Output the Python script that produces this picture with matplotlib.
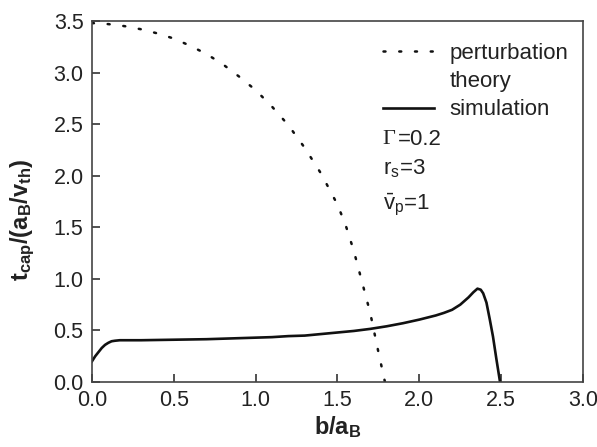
import matplotlib
matplotlib.use("Agg")
import matplotlib.pyplot as plt
from matplotlib.lines import Line2D

plt.rcParams['font.family'] = ['Liberation Sans', 'DejaVu Sans']
plt.rcParams['mathtext.fontset'] = 'custom'
plt.rcParams['mathtext.rm'] = 'Liberation Sans'
plt.rcParams['mathtext.it'] = 'Liberation Sans'
plt.rcParams['mathtext.bf'] = 'Liberation Sans:bold'

# perturbation theory
pt_x = [0, 0.1, 0.2, 0.3, 0.4, 0.5, 0.6, 0.7, 0.8, 0.9, 1.0, 1.1, 1.2, 1.3,
        1.4, 1.5, 1.55, 1.6, 1.65, 1.7, 1.75, 1.79]
pt_y = [3.48, 3.47, 3.45, 3.42, 3.38, 3.33, 3.26, 3.18, 3.08, 2.96, 2.83,
        2.67, 2.49, 2.27, 2.02, 1.72, 1.52, 1.27, 0.97, 0.67, 0.29, 0.0]

# simulation
sim_x = [0, 0.02, 0.04, 0.06, 0.08, 0.10, 0.12, 0.14, 0.17, 0.3, 0.5, 0.7,
         0.9, 1.1, 1.2, 1.3, 1.4, 1.5, 1.6, 1.7, 1.8, 1.9, 2.0, 2.1, 2.15,
         2.2, 2.25, 2.3, 2.33, 2.355, 2.375, 2.39, 2.41, 2.43, 2.45, 2.47,
         2.493]
sim_y = [0.20, 0.25, 0.29, 0.33, 0.36, 0.38, 0.395, 0.40, 0.405, 0.405, 0.41,
         0.415, 0.425, 0.435, 0.445, 0.45, 0.465, 0.48, 0.495, 0.515, 0.54,
         0.57, 0.605, 0.645, 0.67, 0.70, 0.75, 0.82, 0.87, 0.905, 0.895,
         0.86, 0.77, 0.61, 0.44, 0.23, 0.0]

xticks = [0.0, 0.5, 1.0, 1.5, 2.0, 2.5, 3.0]
yticks = [0.0, 0.5, 1.0, 1.5, 2.0, 2.5, 3.0, 3.5]

fig = plt.figure(figsize=(5.97, 4.47), dpi=100)
ax = fig.add_axes([0.154, 0.1454, 0.8226, 0.8076])

h_pt, = ax.plot(pt_x, pt_y, color='#111111', lw=1.8,
                linestyle=(0, (0.8, 5.5)), dash_capstyle='round')
h_sim, = ax.plot(sim_x, sim_y, color='#111111', lw=1.9,
                 solid_joinstyle='round')
h_blank = Line2D([], [], linestyle='none')

ax.set_xlim(0, 3.0)
ax.set_ylim(0, 3.5)
ax.set_xticks(xticks)
ax.set_yticks(yticks)
ax.set_xticklabels([f"{v:.1f}" for v in xticks])
ax.set_yticklabels([f"{v:.1f}" for v in yticks])
ax.tick_params(direction='in', length=6, width=1.2, labelsize=15.5,
               colors='#333333', labelcolor='#222222', pad=6,
               top=False, right=False)
for s in ax.spines.values():
    s.set_color('#444444')
    s.set_linewidth(1.2)

ax.set_xlabel(r'$\mathbf{b/a_B}$', fontsize=17, labelpad=2, color='#222222')
ax.set_ylabel(r'$\mathbf{t_{cap}/(a_B/v_{th})}$', fontsize=17, color='#222222')
ax.yaxis.set_label_coords(-0.112, 0.45)

leg = ax.legend([h_pt, h_blank, h_sim], ['perturbation', 'theory', 'simulation'],
                loc='upper left', bbox_to_anchor=(0.593, 0.94), frameon=False,
                fontsize=16, handlelength=2.3, handletextpad=0.7,
                borderpad=0, borderaxespad=0, labelspacing=0.33)
for t in leg.get_texts():
    t.set_color('#222222')

tx = 1.775
ax.text(tx, 2.35, 'Γ', family='Liberation Serif', fontsize=16,
        color='#222222', va='center')
ax.text(tx + 0.095, 2.35, '=0.2', fontsize=16, color='#222222', va='center')
ax.text(tx, 2.07, r'r$_\mathrm{s}$=3', fontsize=16, color='#222222', va='center')
ax.text(tx, 1.72, r'$\bar{\mathrm{v}}_\mathrm{p}$=1', fontsize=16,
        color='#222222', va='center')

fig.savefig('out.png', dpi=100)
